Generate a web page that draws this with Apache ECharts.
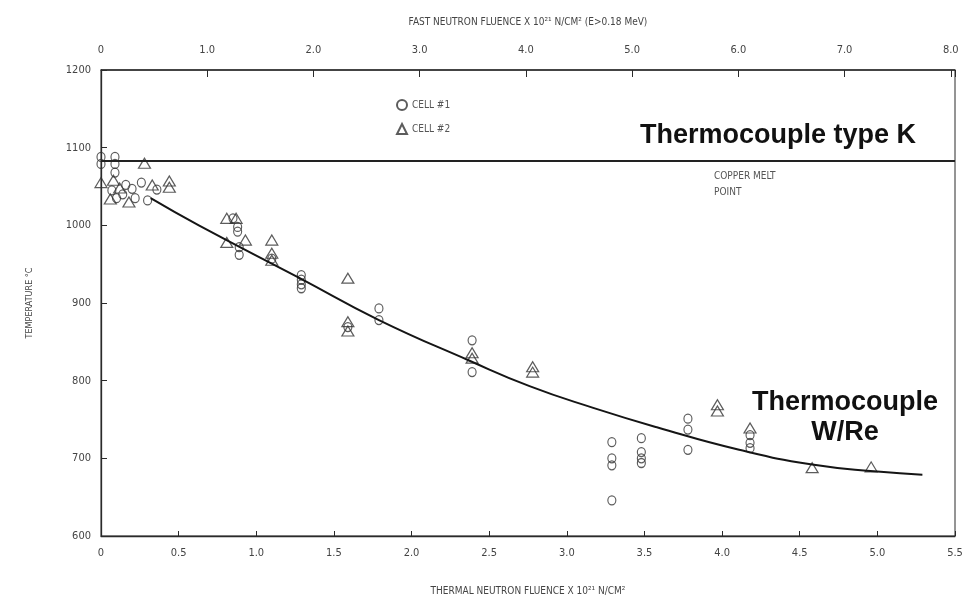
<!DOCTYPE html>
<html>
<head>
<meta charset="utf-8">
<script src="https://cdn.jsdelivr.net/npm/echarts@6/dist/echarts.min.js"></script>
<style>
html, body { margin: 0; padding: 0; background: #fff; }
#chart { width: 974px; height: 602px; }
</style>
</head>
<body>
<div id="chart"></div>
<script>
// thermal neutron fluence (x 10^21 n/cm2), temperature degC
var cell1 = [
    [0.0, 1088], [0.0, 1079], [0.09, 1088], [0.09, 1079], [0.09, 1068],
    [0.07, 1045], [0.1, 1035], [0.14, 1040], [0.16, 1052], [0.2, 1047],
    [0.22, 1035], [0.26, 1055], [0.3, 1032], [0.36, 1046],
    [0.85, 1009], [0.88, 998], [0.88, 992], [0.89, 972], [0.89, 962], [1.1, 957],
    [1.29, 936], [1.29, 930], [1.29, 924], [1.29, 919],
    [1.59, 869], [1.79, 893], [1.79, 878],
    [2.39, 852], [2.39, 811],
    [3.29, 721], [3.29, 700], [3.29, 691], [3.29, 646],
    [3.48, 726], [3.48, 708], [3.48, 700], [3.48, 694],
    [3.78, 751], [3.78, 737], [3.78, 711],
    [4.18, 730], [4.18, 720], [4.18, 713]
];
var cell2 = [
    [0.0, 1055], [0.08, 1058], [0.12, 1048], [0.28, 1080], [0.33, 1052],
    [0.44, 1057], [0.44, 1049], [0.18, 1030], [0.06, 1034],
    [0.81, 1009], [0.87, 1009], [0.81, 978], [0.93, 981],
    [1.1, 981], [1.1, 964], [1.1, 955],
    [1.59, 932], [1.59, 876], [1.59, 864],
    [2.39, 836], [2.39, 829],
    [2.78, 818], [2.78, 811],
    [3.97, 769], [3.97, 761],
    [4.18, 739],
    [4.58, 688], [4.96, 689]
];
// fitted curve as drawn on the original
var curve = [
    [0.32, 1035], [0.63, 1000], [1.28, 932], [1.79, 878], [2.37, 826],
    [2.76, 793], [3.17, 765], [3.58, 740], [4.11, 711], [4.58, 692], [5.0, 683], [5.29, 679]
];
var copperMelt = 1083;
var fastTicks = [0, 8];      // fast neutron fluence axis range
var thermalTicks = [0, 5.5]; // thermal neutron fluence axis range
var tempTicks = [600, 1200];

var font = 'DejaVu Sans Condensed';
var ink = '#2a2a2a';

var chart = echarts.init(document.getElementById('chart'));

function fmt(v) {
    if (Math.abs(v - Math.round(v * 2) / 2) > 1e-6) return '';
    return v === 0 ? '0' : v.toFixed(1);
}

var option = {
    backgroundColor: '#fff',
    animation: false,
    grid: {
        left: 101, right: 19, top: 70, bottom: 66,
        show: true, borderColor: ink, borderWidth: 1
    },
    legend: {
        data: ['CELL #1', 'CELL #2'],
        orient: 'vertical',
        left: 391, top: 94,
        itemWidth: 10, itemHeight: 10, itemGap: 12,
        textStyle: { fontFamily: font, fontSize: 10, color: '#555' }
    },
    xAxis: [
        {
            type: 'value', position: 'bottom',
            min: thermalTicks[0], max: thermalTicks[1], interval: 0.5,
            name: 'THERMAL NEUTRON FLUENCE X 10²¹ N/CM²',
            nameLocation: 'middle', nameGap: 50,
            nameTextStyle: { fontFamily: font, fontSize: 10, color: '#444' },
            axisLine: { lineStyle: { color: ink, width: 1.3 } },
            axisTick: { inside: true, length: 5, lineStyle: { color: ink } },
            axisLabel: { formatter: fmt, margin: 12, fontFamily: font, fontSize: 11, color: '#444' },
            splitLine: { show: false }
        },
        {
            type: 'value', position: 'top',
            min: fastTicks[0], max: fastTicks[1] + 0.04, interval: 1,
            name: 'FAST NEUTRON FLUENCE X 10²¹ N/CM² (E>0.18 MeV)',
            nameLocation: 'middle', nameGap: 43,
            nameTextStyle: { fontFamily: font, fontSize: 10, color: '#444' },
            axisLine: { lineStyle: { color: ink, width: 1.5 } },
            axisTick: { inside: true, length: 7, lineStyle: { color: ink } },
            axisLabel: {
                formatter: function (v) { return Math.abs(v - Math.round(v)) > 1e-6 ? '' : fmt(v); },
                margin: 14, fontFamily: font, fontSize: 11, color: '#444'
            },
            splitLine: { show: false }
        }
    ],
    yAxis: {
        type: 'value',
        min: tempTicks[0], max: tempTicks[1], interval: 100,
        name: 'TEMPERATURE °C',
        nameLocation: 'middle', nameGap: 67,
        nameTextStyle: { fontFamily: font, fontSize: 9, color: '#444' },
        axisLine: { show: true, lineStyle: { color: ink, width: 1.3 } },
        axisTick: { inside: true, length: 6, lineStyle: { color: ink } },
        axisLabel: {
            formatter: function (v) { return String(v); },
            margin: 10, fontFamily: font, fontSize: 11, color: '#444'
        },
        splitLine: { show: false }
    },
    graphic: [
        {
            type: 'text', x: 640, y: 122,
            style: { text: 'Thermocouple type K', font: 'bold 27px "Liberation Sans"', fill: '#111' }
        },
        {
            type: 'text', x: 845, y: 389,
            style: { text: 'Thermocouple', font: 'bold 27px "Liberation Sans"', fill: '#111', align: 'center' }
        },
        {
            type: 'text', x: 845, y: 419,
            style: { text: 'W/Re', font: 'bold 27px "Liberation Sans"', fill: '#111', align: 'center' }
        },
        {
            type: 'text', x: 714, y: 168,
            style: { text: 'COPPER MELT\nPOINT', font: '10px "DejaVu Sans Condensed"', fill: '#555', lineHeight: 16 }
        }
    ],
    series: [
        {
            name: 'curve', type: 'line', data: curve,
            smooth: 0.5, showSymbol: false, silent: true,
            lineStyle: { color: '#151515', width: 2 },
            markLine: {
                silent: true, symbol: 'none', label: { show: false },
                lineStyle: { color: '#222', width: 1.8, type: 'solid' },
                data: [{ yAxis: copperMelt }]
            }
        },
        {
            name: 'CELL #1', type: 'scatter', data: cell1,
            symbol: 'circle', symbolSize: [8, 9],
            itemStyle: { color: 'rgba(255,255,255,0)', borderColor: '#333', borderWidth: 1.2 }
        },
        {
            name: 'CELL #2', type: 'scatter', data: cell2,
            symbol: 'triangle', symbolSize: [12, 10],
            itemStyle: { color: 'rgba(255,255,255,0)', borderColor: '#333', borderWidth: 1.2 }
        }
    ]
};
chart.setOption(option);
</script>
</body>
</html>
